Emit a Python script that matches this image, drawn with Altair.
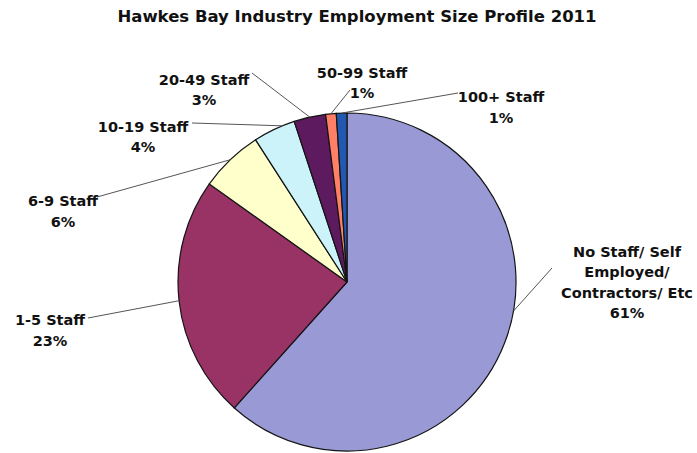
import altair as alt
import pandas as pd
import numpy as np

# ---- data ----
categories = ["No Staff/ Self Employed/ Contractors/ Etc", "1-5 Staff", "6-9 Staff",
              "10-19 Staff", "20-49 Staff", "50-99 Staff", "100+ Staff"]
values = [61, 23, 6, 4, 3, 1, 1]
label_lines = [["No Staff/ Self", "Employed/", "Contractors/ Etc"], ["1-5 Staff"], ["6-9 Staff"],
               ["10-19 Staff"], ["20-49 Staff"], ["50-99 Staff"], ["100+ Staff"]]
colors = ["#9999d6", "#993366", "#ffffcc", "#ccf2fa", "#5e1a5e", "#ff8066", "#2358b0"]
title_text = "Hawkes Bay Industry Employment Size Profile 2011"

# ---- layout (annotation placement) ----
W, H = 697, 453
CX, CY, R = 347, 282, 169
label_x = [627, 50, 63, 143, 204, 362, 501]
label_y = [252.5, 321, 202, 127.5, 80.5, 73.5, 98]
elbow_x = [552, 88, 97, 192, 252, 350, 458]
elbow_y = [268, 318, 197, 123, 73, 90, 93]
anchor_shift = [-11, 0, 0, 3, 0, 0, 0]

vals = np.array(values, dtype=float)
cum = np.concatenate([[0], np.cumsum(vals)[:-1]])
mid_deg = (cum + vals / 2) / vals.sum() * 360 + np.array(anchor_shift)
rad = np.deg2rad(mid_deg)

df = pd.DataFrame({
    "idx": list(range(len(categories))),
    "category": categories,
    "value": values,
    "lines": [l + [f"{v}%"] for l, v in zip(label_lines, values)],
    "lx": label_x,
    "ly": label_y,
    "sx": CX + R * np.sin(rad),
    "sy": CY - R * np.cos(rad),
    "ex": elbow_x,
    "ey": elbow_y,
})

xs = alt.Scale(domain=[0, W], range=[0, W], nice=False, zero=False)
ys = alt.Scale(domain=[0, H], range=[0, H], nice=False, zero=False)

base = alt.Chart(df)

pie = base.mark_arc(radius=R, stroke="#141414", strokeWidth=1.2).encode(
    theta=alt.Theta("value:Q", stack=True),
    order=alt.Order("idx:Q"),
    color=alt.Color("category:N", scale=alt.Scale(domain=categories, range=colors), legend=None),
    x=alt.value(CX),
    y=alt.value(CY),
)

leaders = base.mark_rule(color="#555555", strokeWidth=1).encode(
    x=alt.X("sx:Q", scale=xs, axis=None),
    y=alt.Y("sy:Q", scale=ys, axis=None),
    x2="ex:Q",
    y2="ey:Q",
)

labels = base.mark_text(font="DejaVu Sans", fontWeight="bold", fontSize=14.5,
                        lineHeight=20.5, align="center", baseline="middle",
                        color="#111111").encode(
    x=alt.X("lx:Q", scale=xs, axis=None),
    y=alt.Y("ly:Q", scale=ys, axis=None),
    text="lines",
)

title = alt.Chart(pd.DataFrame({"t": [title_text]})).mark_text(
    font="DejaVu Sans", fontWeight="bold", fontSize=16.5, align="center",
    baseline="middle", color="#111111").encode(
    x=alt.value(357), y=alt.value(17), text="t:N")

chart = alt.layer(pie, leaders, labels, title).properties(
    width=W, height=H, autosize="none", padding=0, background="white"
).configure_view(stroke=None)

chart.save("out.html", embed_options={"renderer": "svg", "actions": False})
